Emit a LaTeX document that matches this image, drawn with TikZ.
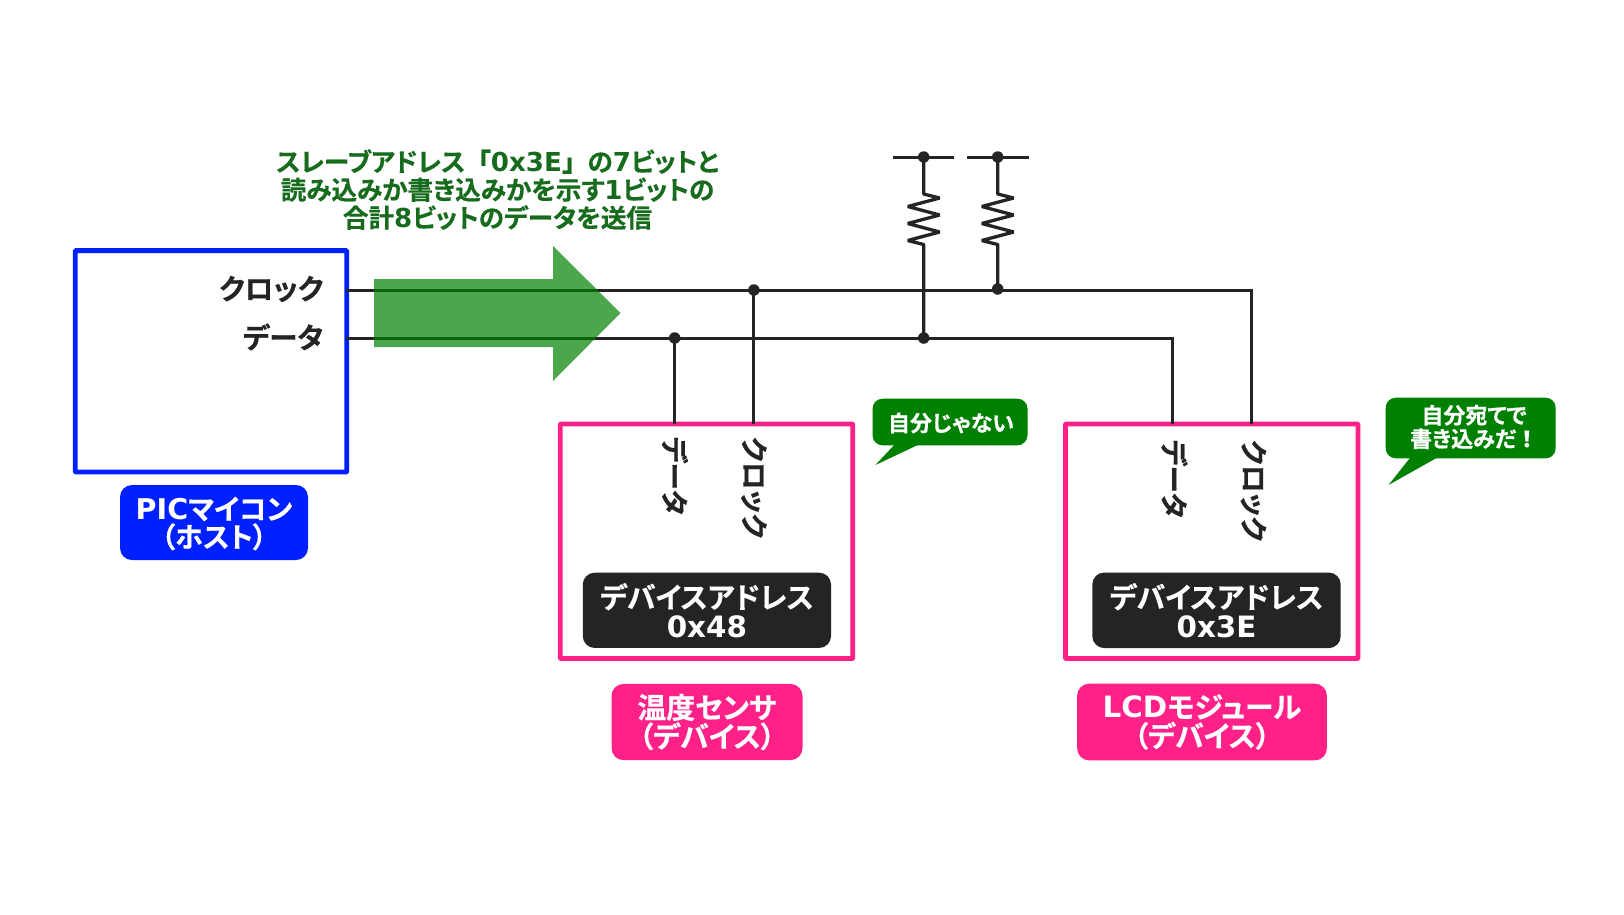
\documentclass[tikz,border=0pt]{standalone}
\usepackage{fontspec}
\setmainfont{Noto Sans CJK JP}[RawFeature={+palt},BoldFont={Noto Sans CJK JP Bold},BoldFeatures={FakeBold=0.5}]
\newfontfamily\latfont{DejaVu Sans Bold}[Scale=1.02]
\newfontfamily\fullfont{Noto Sans CJK JP Bold}[FakeBold=0.5]
\newcommand{\lat}[1]{{\latfont #1}}
\newcommand{\full}[1]{{\fullfont #1}}
\definecolor{wire}{HTML}{242424}
\definecolor{hostblue}{HTML}{0020FF}
\definecolor{devpink}{HTML}{FF2188}
\definecolor{okgreen}{HTML}{008000}
\definecolor{titlegreen}{HTML}{176B1C}
\newcommand{\fsz}[2]{\fontsize{#1}{#2}\selectfont\bfseries}
\tikzset{
  x=1pt,y=-1pt,
  wireline/.style={draw=wire,line width=3pt,line join=miter},
  frame/.style={draw=#1,fill=white,line width=4.8pt,rectangle,inner sep=0pt,outer sep=0pt,rounded corners=0.8pt},
  tag/.style={fill=#1,rectangle,rounded corners=12pt,text=white,align=center,inner sep=0pt,outer sep=0pt,font=\fsz{28.8}{29}},
  bubble/.style={fill=okgreen,rectangle,rounded corners=10pt,inner sep=0pt,outer sep=0pt},
  bubbletext/.style={text=white,align=center,inner sep=0pt,font=\fsz{22}{23.5}},
  pinlabel/.style={text=wire,inner sep=0pt,font=\fsz{28.5}{29}},
  sidelabel/.style={text=wire,inner sep=0pt,font=\fsz{27.8}{29},rotate=-90,anchor=west},
  junction/.style={fill=wire,circle,inner sep=0pt,minimum size=11.5pt},
  resistor/.style={draw=wire,line width=3.3pt,line join=bevel}
}
\begin{document}
\begin{tikzpicture}
\useasboundingbox (0,0) rectangle (1624,914);
% device frames and tags
\node[frame=hostblue,minimum width=271.5pt,minimum height=221.4pt] (host) at (211,361.3) {};
\node[frame=devpink,minimum width=292.6pt,minimum height=234.5pt] (temp) at (706.5,541.3) {};
\node[frame=devpink,minimum width=292.6pt,minimum height=234.5pt] (lcd) at (1211.7,541.3) {};
% junctions
\coordinate (ck0) at (346,290);
\coordinate (dt0) at (346,338);
\coordinate (ckT) at (753.9,290);
\coordinate (dtT) at (674.7,338);
\coordinate (ckL) at (1251,290);
\coordinate (dtL) at (1172.2,338);
\coordinate (vdd1) at (923.7,157);
\coordinate (vdd2) at (997.7,157);
\coordinate (jd1) at (923.7,338);
\coordinate (jc2) at (997.7,289);
\coordinate (b1l) at (893,157);
\coordinate (b1r) at (954,157);
\coordinate (b2l) at (967,157);
\coordinate (b2r) at (1028.5,157);
% wires
\draw[wireline] (ck0) -- (ckL) -- (ckL |- lcd.north);
\draw[wireline] (dt0) -- (dtL) -- (dtL |- lcd.north);
\draw[wireline] (ckT) -- (ckT |- temp.north);
\draw[wireline] (dtT) -- (dtT |- temp.north);
\draw[wireline] (b1l) -- (b1r);
\draw[wireline] (b2l) -- (b2r);
\draw[resistor] (vdd1) -- ++(0,37) -- ++(16,4) -- ++(-32,8.5) -- ++(32,8.5) -- ++(-32,8.5) -- ++(32,8.5) -- ++(-32,8.5) -- ++(16,4) -- (jd1);
\draw[resistor] (vdd2) -- ++(0,37) -- ++(16,4) -- ++(-32,8.5) -- ++(32,8.5) -- ++(-32,8.5) -- ++(32,8.5) -- ++(-32,8.5) -- ++(16,4) -- (jc2);
\foreach \p/\n in {ckT/a,dtT/b,vdd1/c,vdd2/d,jd1/e,jc2/f}{\node[junction] (dot\n) at (\p) {};}
% big arrow
\fill[okgreen,opacity=.7] (374,279) -- (553,279) -- (553,246) -- (620.5,313) -- (553,381) -- (553,347) -- (374,347) -- cycle;
% title
\node[text=titlegreen,align=center,inner sep=0pt,font=\fsz{25.6}{28}] (title) at (497.5,189.5) {スレーブアドレス\full{「}\lat{0x3E}\full{」}の\lat{7}ビットと\\読み込みか書き込みかを示す\lat{1}ビットの\\合計\lat{8}ビットのデータを送信};
% host
\node[pinlabel,anchor=east] (hck) at (323.5,289) {クロック};
\node[pinlabel,anchor=east] (hdt) at (323.5,337) {データ};
\node[tag=hostblue,minimum width=188pt,minimum height=75pt] (hosttag) at (214,522.5) {};
\node[text=white,align=center,inner sep=0pt,font=\fsz{28}{28}] (hosttxt) at (214,523.5) {\lat{PIC}マイコン\\（ホスト）};
% temperature sensor
\node[sidelabel] (tdt) at (675,436.5) {データ};
\node[sidelabel] (tck) at (754,436.5) {クロック};
\node[tag=wire,minimum width=248.3pt,minimum height=75.3pt] (taddr) at (706.9,610.3) {デバイスアドレス\\\lat{0x48}};
\node[tag=devpink,minimum width=191pt,minimum height=76.2pt] (temptag) at (707,722) {温度センサ\\（デバイス）};
% lcd
\node[sidelabel] (ldt) at (1174.5,439.5) {データ};
\node[sidelabel] (lck) at (1253.5,439.5) {クロック};
\node[tag=wire,minimum width=248.4pt,minimum height=75.6pt] (laddr) at (1216.5,610.3) {デバイスアドレス\\\lat{0x3E}};
\node[tag=devpink,minimum width=249.7pt,minimum height=76.7pt] (lcdtag) at (1202,722) {\lat{LCD}モジュール\\（デバイス）};
% callouts
\fill[okgreen] (896,443) -- (875.4,465) -- (922,443) -- cycle;
\node[bubble,minimum width=155pt,minimum height=46.6pt] (b1) at (950,422) {};
\node[bubbletext] (b1t) at (951,423) {自分じゃない};
\fill[okgreen] (1411.5,456) -- (1388.5,485) -- (1440,456) -- cycle;
\node[bubble,minimum width=170pt,minimum height=60.6pt] (b2) at (1470.7,428) {};
\node[bubbletext] (b2t) at (1474,427) {自分宛てで\\書き込みだ\full{！}};
\end{tikzpicture}
\end{document}
